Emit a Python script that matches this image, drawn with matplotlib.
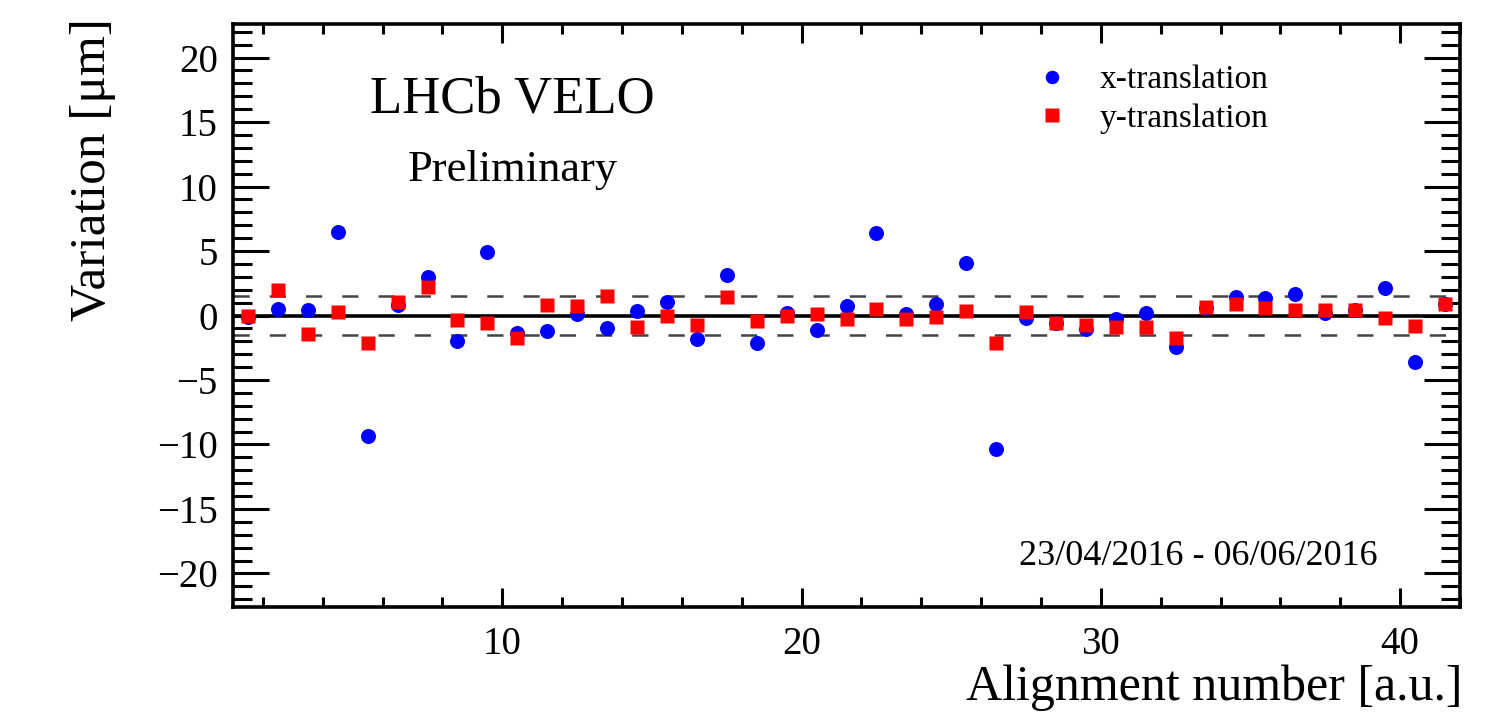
import matplotlib
matplotlib.use("Agg")
import matplotlib.pyplot as plt
from matplotlib.ticker import MultipleLocator

# ---- data ----
alignment = [1.5 + i for i in range(41)]
x_translation = [-0.1, 0.54, 0.46, 6.49, -9.35, 0.85, 2.97, -1.99, 4.9, -1.34,
                 -1.21, 0.13, -0.98, 0.34, 1.03, -1.81, 3.13, -2.12, 0.2, -1.14,
                 0.72, 6.41, 0.08, 0.93, 4.08, -10.33, -0.23, -0.6, -1.08, -0.31,
                 0.2, -2.43, 0.6, 1.45, 1.37, 1.7, 0.2, 0.4, 2.14, -3.62, 0.9]
y_translation = [0.0, 2.0, -1.42, 0.28, -2.17, 1.03, 2.2, -0.36, -0.57, -1.73,
                 0.85, 0.72, 1.55, -0.88, 0.0, -0.7, 1.45, -0.44, -0.05, 0.15,
                 -0.26, 0.54, -0.31, -0.1, 0.34, -2.17, 0.28, -0.62, -0.7, -0.88,
                 -0.9, -1.73, 0.65, 0.9, 0.59, 0.46, 0.41, 0.41, -0.21, -0.78, 0.9]
band = 1.5
series_labels = ["x-translation", "y-translation"]

plt.rcParams['font.family'] = ['Liberation Serif', 'DejaVu Serif']
plt.rcParams['mathtext.fontset'] = 'stix'

W, H = 1498, 714
fig = plt.figure(figsize=(W / 100, H / 100), dpi=100)
L, R, T, B = 233, 1460, 24, 607
ax = fig.add_axes([L / W, 1 - B / H, (R - L) / W, (B - T) / H])

ax.axhline(0, color='black', lw=2.6, zorder=1)
ax.axhline(band, color='#444444', lw=1.8, ls=(0, (6.5, 8.0)), zorder=1)
ax.axhline(-band, color='#444444', lw=1.8, ls=(0, (6.5, 8.0)), zorder=1)

ax.plot(alignment, x_translation, 'o', color='#0000ff', ms=10.8, mec='none',
        label=series_labels[0], zorder=3)
ax.plot(alignment, y_translation, 's', color='#ff0000', ms=10.5, mec='none',
        label=series_labels[1], zorder=4)

ax.set_xlim(1, 42)
ax.set_ylim(-22.6, 22.6)
ax.xaxis.set_major_locator(MultipleLocator(10))
ax.xaxis.set_minor_locator(MultipleLocator(2))
ax.yaxis.set_major_locator(MultipleLocator(5))
ax.yaxis.set_minor_locator(MultipleLocator(1))

for s in ax.spines.values():
    s.set_linewidth(2.6)

ax.tick_params(axis='both', which='both', direction='in', top=True, right=True,
               width=2.2, colors='black')
ax.tick_params(axis='x', which='major', length=14, pad=14, labelsize=28)
ax.tick_params(axis='x', which='minor', length=7)
ax.tick_params(axis='y', which='major', length=26, pad=11, labelsize=28)
ax.tick_params(axis='y', which='minor', length=14)

ax.set_xlabel("Alignment number [a.u.]", fontsize=36, loc='right')
ax.xaxis.set_label_coords(1.002, -0.098)
ax.set_ylabel("Variation [μm]", fontsize=37, loc='top')
ax.yaxis.set_label_coords(-0.095, 1.01)

ax.text(0.228, 0.870, "LHCb VELO", transform=ax.transAxes, fontsize=38,
        ha='center', va='center')
ax.text(0.228, 0.750, "Preliminary", transform=ax.transAxes, fontsize=32,
        ha='center', va='center')
ax.text(0.933, 0.086, "23/04/2016 - 06/06/2016", transform=ax.transAxes,
        fontsize=26, ha='right', va='center')

leg = ax.legend(loc='upper left', bbox_to_anchor=(0.654, 0.93), frameon=False,
                fontsize=24, handlelength=1.0, handletextpad=0.93,
                borderpad=0, borderaxespad=0, labelspacing=0.25, markerscale=0.9)

fig.savefig("out.png", dpi=100)
